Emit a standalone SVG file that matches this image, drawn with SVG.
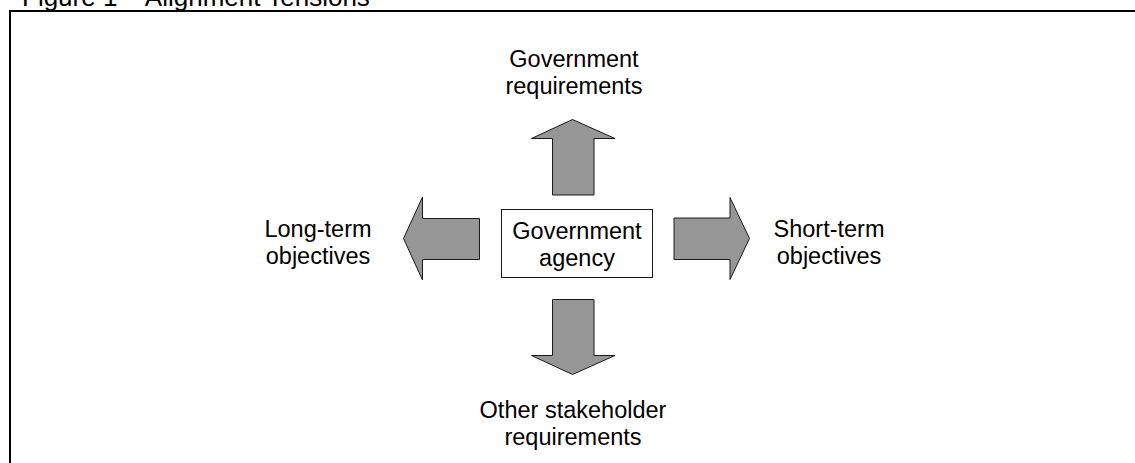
<svg xmlns="http://www.w3.org/2000/svg" width="1135" height="463" viewBox="0 0 1135 463">
  <style>
    .lbl { font-family: "Liberation Sans", Arial, sans-serif; font-size: 23.5px; fill: #000; text-anchor: middle; }
    .title { font-family: "Liberation Sans", Arial, sans-serif; font-size: 26px; fill: #000; }
    .arrow { fill: #969696; stroke: #1a1a1a; stroke-width: 1; stroke-linejoin: miter; }
    .box { fill: #fff; stroke: #1a1a1a; stroke-width: 1; }
  </style>
  <rect width="1135" height="463" fill="#fff"/>
  <text class="title" x="22" y="6">Figure 1 – Alignment Tensions</text>
  <!-- outer frame, running off the right and bottom edges -->
  <rect x="10" y="11" width="1140" height="470" fill="none" stroke="#000" stroke-width="2"/>

  <g id="agency">
    <rect class="box" x="501.5" y="209.5" width="151" height="68"/>
    <text class="lbl" x="577" y="239">Government</text>
    <text class="lbl" x="577" y="266">agency</text>
  </g>

  <g id="connectors">
    <!-- up -->
    <polygon class="arrow" points="572.5,119.5 615,138.5 594,138.5 594,195 552.5,195 552.5,138.5 531.5,138.5"/>
    <!-- down -->
    <polygon class="arrow" points="552.5,299.5 594,299.5 594,355.5 615,355.5 572.5,374.5 531.5,355.5 552.5,355.5"/>
    <!-- left -->
    <polygon class="arrow" points="403.5,238.5 422.5,197 422.5,218.5 479.5,218.5 479.5,259.5 422.5,259.5 422.5,280"/>
    <!-- right -->
    <polygon class="arrow" points="674,218 730,218 730,197.5 749.5,238.5 730,279.5 730,259.5 674,259.5"/>
  </g>

  <g id="gov-requirements">
    <text class="lbl" x="574" y="67">Government</text>
    <text class="lbl" x="574" y="94">requirements</text>
  </g>
  <g id="other-requirements">
    <text class="lbl" x="573" y="418">Other stakeholder</text>
    <text class="lbl" x="573" y="445">requirements</text>
  </g>
  <g id="long-term">
    <text class="lbl" x="318" y="237">Long-term</text>
    <text class="lbl" x="318" y="264">objectives</text>
  </g>
  <g id="short-term">
    <text class="lbl" x="829" y="237">Short-term</text>
    <text class="lbl" x="829" y="264">objectives</text>
  </g>
</svg>
